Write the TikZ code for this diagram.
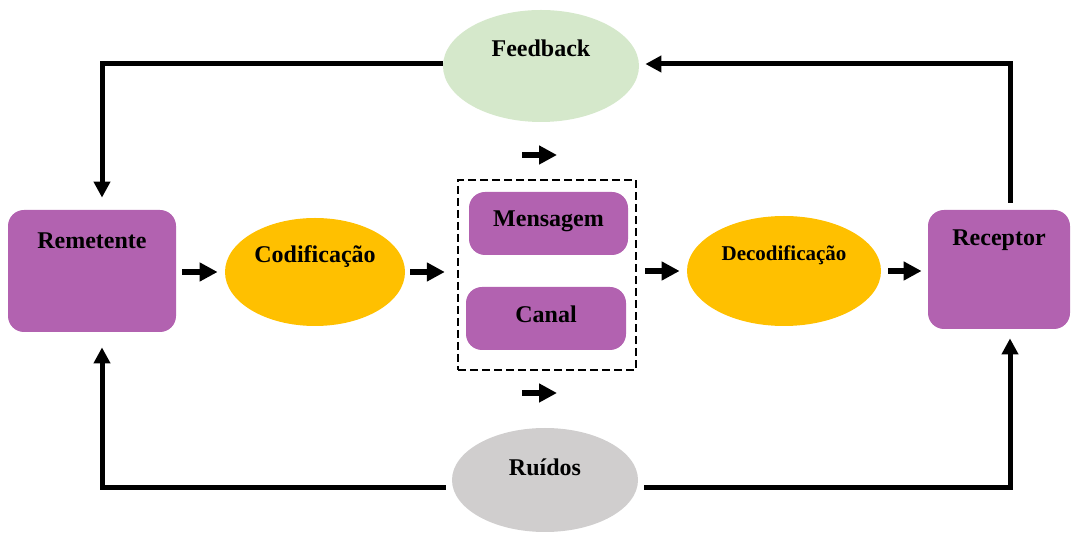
\documentclass[tikz,border=0pt]{standalone}
\usepackage{fontspec}
\setmainfont{Liberation Serif}
\usetikzlibrary{arrows.meta,calc,shapes.geometric}
\definecolor{boxpurple}{HTML}{B262B0}
\definecolor{ovalorange}{HTML}{FFC000}
\definecolor{ovalgreen}{HTML}{D5E8CB}
\definecolor{ovalgray}{HTML}{D0CECE}
\tikzset{
  txt/.style={font=\bfseries\fontsize{12}{14}\selectfont, text=black},
  pbox/.style={fill=boxpurple, draw=none, rounded corners=8pt, inner sep=0pt},
  oval/.style={ellipse, draw=none, inner sep=0pt},
  fat/.style={line width=3pt, -{Triangle[length=9pt,width=9pt]}},
  loop/.style={line width=2.5pt, -{Triangle[length=8pt,width=8pt]}},
}
\begin{document}
\begin{tikzpicture}[x=0.5pt,y=-0.5pt]
\useasboundingbox (0,0) rectangle (1071,533);

% main chain
\node[pbox, minimum width=84pt, minimum height=61pt,
  label={[txt,anchor=center,yshift=-15.5pt]north:Remetente}] (rem) at (92,271) {};
\node[oval, fill=ovalorange, minimum width=90pt, minimum height=54pt,
  label={[txt,anchor=center,yshift=7.5pt]center:Codificação}] (cod) at (315,272) {};
\node[draw, line width=1.2pt, dash pattern=on 4pt off 2pt,
  minimum width=89pt, minimum height=95pt, inner sep=0pt] (grp) at (547,275) {};
\node[pbox, minimum width=79.5pt, minimum height=31.5pt,
  label={[txt,anchor=center,yshift=1pt]center:Mensagem}] (msg) at (548.5,223.5) {};
\node[pbox, minimum width=80pt, minimum height=31.5pt,
  label={[txt,anchor=center,yshift=2pt]center:Canal}] (can) at (546,318.5) {};
\node[oval, fill=ovalorange, minimum width=97pt, minimum height=55pt,
  label={[txt,font=\bfseries\fontsize{10.5}{12}\selectfont,anchor=center,yshift=8pt]center:Decodificação}] (dec) at (784,271) {};
\node[pbox, minimum width=71pt, minimum height=59.5pt,
  label={[txt,anchor=center,yshift=-15.5pt]north:Receptor}] (rec) at (999,269.5) {};

% feedback and noise
\node[oval, fill=ovalgreen, minimum width=98pt, minimum height=56pt,
  label={[txt,anchor=center,yshift=9pt]center:Feedback}] (fb) at (541,66) {};
\node[oval, fill=ovalgray, minimum width=93pt, minimum height=52pt,
  label={[txt,anchor=center,yshift=6.5pt]center:Ruídos}] (rui) at (545,480) {};

% flow arrows
\draw[fat, shorten <=3pt, shorten >=3.5pt] (rem.east |- cod.west) -- (cod.west);
\draw[fat, shorten <=2.5pt, shorten >=6pt] (cod.east) -- (grp.west |- cod.east);
\draw[fat, shorten <=4pt, shorten >=3.5pt] (grp.east |- dec.west) -- (dec.west);
\draw[fat, shorten <=3.5pt, shorten >=3pt] (dec.east) -- (rec.west |- dec.east);

\coordinate (ta) at (522,155);
\coordinate (tb) at (557,155);
\coordinate (ba) at (522,393);
\coordinate (bb) at (557,393);
\draw[fat] (ta) -- (tb);
\draw[fat] (ba) -- (bb);

% feedback loop
\draw[loop, shorten >=6pt] ([yshift=1pt]fb.west) -| ([xshift=5pt]rem.north);
\draw[loop, shorten <=3.5pt, shorten >=3pt] ([xshift=5.5pt]rec.north) |- ([yshift=1pt]fb.east);

% noise paths
\draw[loop, shorten <=3pt, shorten >=7.5pt] ([yshift=-4pt]rui.west) -| ([xshift=5pt]rem.south);
\draw[loop, shorten <=3pt, shorten >=4.5pt] ([yshift=-4pt]rui.east) -| ([xshift=5.5pt]rec.south);
\end{tikzpicture}
\end{document}
